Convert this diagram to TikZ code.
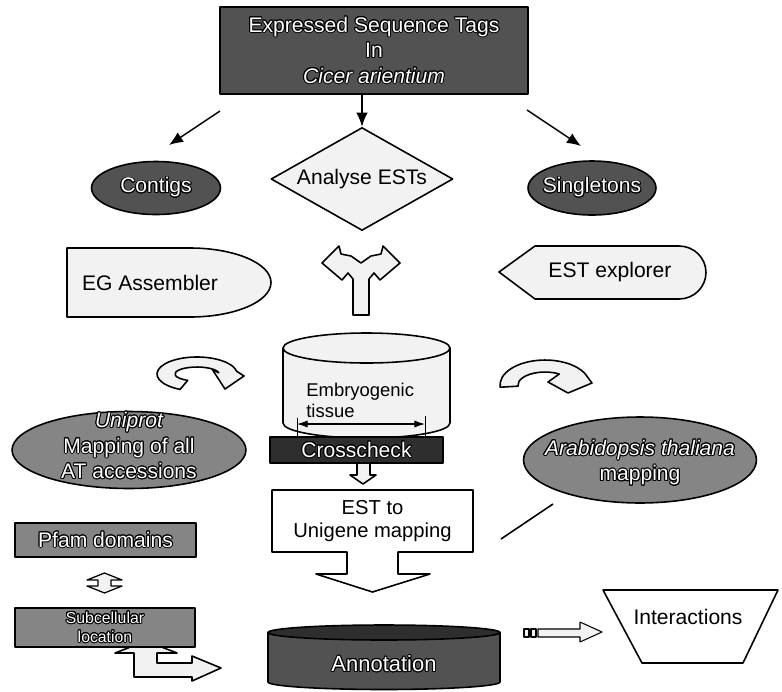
\documentclass[tikz,border=0pt]{standalone}
\usepackage{fontspec}
\setmainfont{Liberation Sans}
\usepackage{contour}
\contourlength{0.55pt}
\usetikzlibrary{arrows.meta,positioning,calc,shapes.geometric}
\definecolor{EstDark}{gray}{0.32}
\definecolor{EstDarker}{gray}{0.18}
\definecolor{EstMid}{gray}{0.52}
\definecolor{EstPale}{gray}{0.95}
\newcommand{\ctext}[1]{\contour{black}{#1}}
\tikzset{
  outline/.style={draw=black, line width=0.9pt},
  pale/.style={outline, fill=EstPale},
  dark/.style={outline, fill=EstDark},
  mid/.style={outline, fill=EstMid},
  onDark/.style={text=white, inner sep=0pt},
  arr/.style={line width=0.8pt, -{Latex[length=8pt,width=6.5pt]}}
}

\begin{document}
\begin{tikzpicture}[x=0.02cm, y=0.02cm, font=\fontsize{12}{14.5}\selectfont, line join=round]
  \useasboundingbox (0,0) rectangle (782,-691);

  % source and first split
  \node[dark, onDark, minimum width=6.16cm, minimum height=1.74cm, align=center] (ests) at (374,-50.5)
    {\ctext{Expressed Sequence Tags}\\\ctext{In}\\\ctext{\itshape Cicer arientium}};
  \node[diamond, pale, inner sep=0pt, aspect=1.77, minimum width=3.64cm, minimum height=2.06cm] (analyse) at (362,-179) {Analyse ESTs};
  \node[ellipse, dark, minimum width=2.58cm, minimum height=1.06cm] (contigs) at (156,-188) {};
  \node[onDark] (contigsT) at (contigs) {\ctext{Contigs}};
  \node[ellipse, dark, minimum width=2.56cm, minimum height=1.08cm] (single) at (592,-188) {};
  \node[onDark] (singleT) at (single) {\ctext{Singletons}};

  \coordinate (toContigsA) at (220,-111);
  \coordinate (toContigsB) at (169,-145);
  \coordinate (toSingleA) at (527,-110);
  \coordinate (toSingleB) at (581,-146);
  \draw[arr] (toContigsA) -- (toContigsB);
  \draw[arr] (toSingleA) -- (toSingleB);
  \draw[arr] (ests.south -| analyse.north) -- (analyse.north);

  % assembler and explorer
  \draw[pale] (67,-248) -- (190,-248) arc[start angle=90, end angle=-90, x radius=81, y radius=34.5]
    -- (67,-317) -- cycle;
  \node (egasm) at (150,-283) {EG Assembler};
  \draw[pale] (499,-272) -- (535,-246) -- (679,-246) arc[start angle=90, end angle=-90, x radius=27, y radius=26.5]
    -- (535,-299) -- cycle;
  \node (explorer) at (610,-272) {EST explorer};

  % fork arrow
  \draw[pale] (353,-315) -- (353,-279) -- (348,-273) -- (342,-280) -- (322,-263) -- (339,-246)
    -- (341,-254) -- (351,-256) -- (361,-263) -- (371,-256) -- (381,-254) -- (383,-246) -- (400,-263)
    -- (380,-280) -- (374,-273) -- (369,-279) -- (369,-315) -- cycle;

  % embryogenic tissue store
  \draw[pale] (283,-348) -- (283,-423) arc[start angle=180, end angle=360, x radius=83.5, y radius=15]
    -- (450,-348) -- cycle;
  \draw[pale] (366.5,-348) ellipse[x radius=83.5, y radius=15];
  \node[anchor=west, align=left, inner sep=0pt, font=\fontsize{10.5}{12}\selectfont] (tissue) at (306,-400)
    {Embryogenic\\tissue};
  \coordinate (spanL) at (297,-424);
  \coordinate (spanR) at (425,-424);
  \draw[line width=0.6pt, {Latex[length=6pt,width=4pt]}-{Latex[length=6pt,width=4pt]}] (spanL) -- (spanR);
  \draw[line width=0.5pt] ($(spanL)+(0,6)$) -- ($(spanL)+(0,-14)$);
  \draw[line width=0.5pt] ($(spanR)+(0,8)$) -- ($(spanR)+(0,-20)$);

  \node[outline, fill=EstDarker, onDark, minimum width=3.46cm, minimum height=0.52cm] (cross) at (356.5,-450) {\ctext{Crosscheck}};
  \draw[pale] (357,-463) -- (357,-475) -- (350,-475) -- (363,-484) -- (376,-475) -- (370,-475) -- (370,-463) -- cycle;

  % mapping callout
  \draw[outline, fill=white] (272,-490) -- (473,-490) -- (473,-552) -- (398,-552) -- (398,-574) -- (430,-574)
    -- (372.5,-592) -- (316,-574) -- (347,-574) -- (347,-552) -- (272,-552) -- cycle;
  \node[align=center, font=\fontsize{11.5}{13}\selectfont] (mapping) at (372.5,-521) {EST to\\Unigene mapping};

  % annotation store
  \draw[dark] (268,-632.5) -- (268,-682) arc[start angle=180, end angle=360, x radius=116, y radius=7.5]
    -- (500,-632.5) -- cycle;
  \draw[outline, fill=EstDarker] (384,-632.5) ellipse[x radius=116, y radius=7.5];
  \node[onDark, font=\fontsize{12.5}{15}\selectfont] (annot) at (384,-664) {\ctext{Annotation}};

  % interactions
  \draw[outline, fill=white] (603,-590) -- (778,-590) -- (743,-663) -- (642,-663) -- cycle;
  \node (inter) at (688,-617) {Interactions};
  \draw[outline, line width=0.6pt, fill=EstPale] (524,-629) rectangle (529,-637);
  \draw[outline, line width=0.6pt, fill=EstPale] (531,-629) rectangle (536,-637);
  \draw[pale, line width=0.6pt] (538,-629) -- (580,-629) -- (580,-622) -- (602,-632) -- (580,-642) -- (580,-637)
    -- (538,-637) -- cycle;

  \coordinate (linkA) at (501,-539);
  \coordinate (linkB) at (553,-504);
  \draw[line width=0.9pt] (linkA) -- (linkB);

  % mappings on both sides
  \draw[pale] (180.1,-389.4) arc[start angle=245, end angle=10, x radius=40, y radius=17]
    -- (244,-376) -- (225,-389) -- (212,-369) -- (218.7,-372.8)
    arc[start angle=10, end angle=245, x radius=22, y radius=7] -- cycle;
  \draw[pale] (500.2,-387.2) arc[start angle=185, end angle=28, x radius=45, y radius=25]
    -- (592,-383) -- (568,-393) -- (548,-382) -- (559.3,-374)
    arc[start angle=58, end angle=185, x radius=27, y radius=13] -- cycle;

  \node[ellipse, mid, minimum width=4.68cm, minimum height=1.54cm] (uniprot) at (129,-450) {};
  \node[onDark, align=center] (uniprotT) at (129,-446)
    {\ctext{\itshape Uniprot}\\\ctext{Mapping of all}\\\ctext{AT accessions}};
  \node[ellipse, mid, minimum width=4.66cm, minimum height=1.72cm] (arab) at (640,-460) {};
  \node[onDark, align=center] (arabT) at (640,-463)
    {\ctext{\itshape Arabidopsis thaliana}\\\ctext{mapping}};

  % domains and location
  \node[mid, onDark, minimum width=3.62cm, minimum height=0.68cm] (pfam) at (105.5,-540) {\ctext{Pfam domains}};
  \draw[pale, line width=0.7pt] (104.5,-573) -- (122,-580) -- (111,-580) -- (111,-586) -- (122,-586) -- (104.5,-593)
    -- (87,-586) -- (98,-586) -- (98,-580) -- (87,-580) -- cycle;
  \draw[pale] (134,-653) -- (115,-653) -- (146,-641) -- (177,-653) -- (157,-653) -- (157,-663) -- (192,-663)
    -- (192,-656) -- (221,-668) -- (192,-681) -- (192,-677) -- (134,-677) -- cycle;
  \node[mid, onDark, align=center, minimum width=3.6cm, minimum height=0.78cm, font=\fontsize{9}{10.8}\selectfont] (subcell) at (105,-627.5)
    {\ctext{Subcellular}\\\ctext{location}};
\end{tikzpicture}
\end{document}
